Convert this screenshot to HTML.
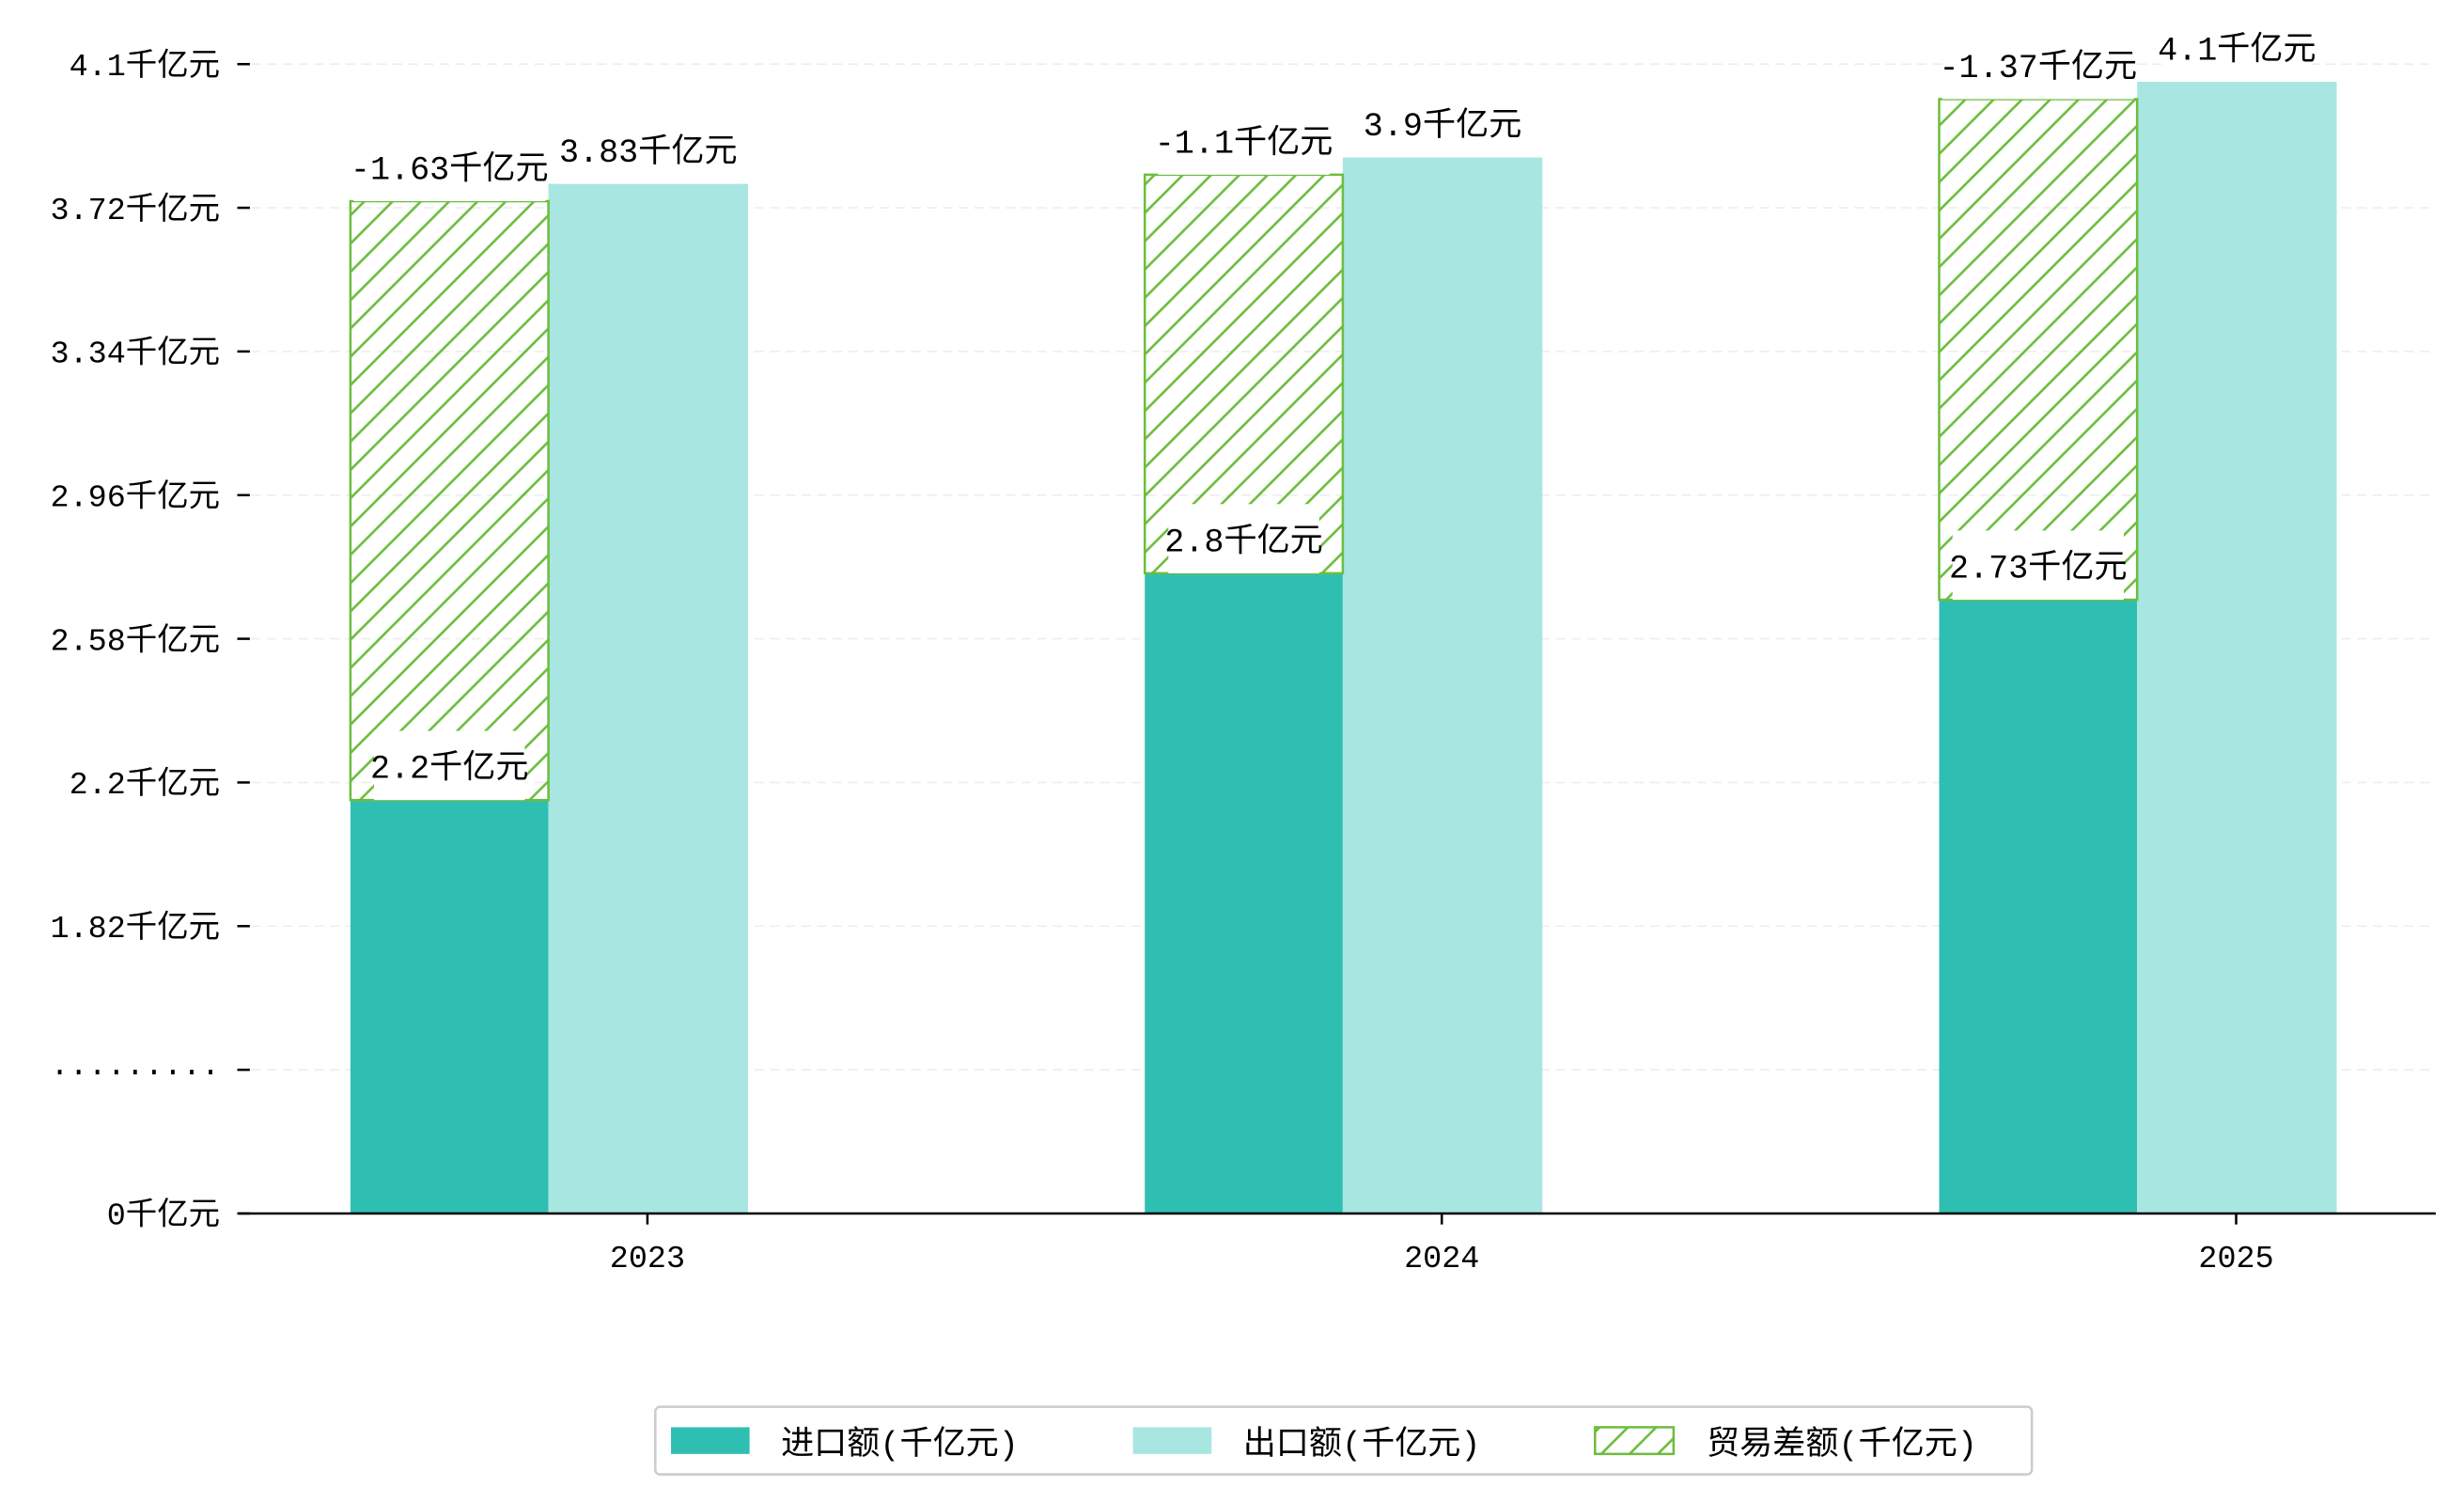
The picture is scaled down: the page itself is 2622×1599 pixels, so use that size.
<!DOCTYPE html>
<html><head><meta charset="utf-8"><style>
html,body{margin:0;padding:0;background:#fff}
svg{display:block}
text{font-family:"Liberation Mono","Noto Sans CJK SC",monospace;fill:#000}
</style></head><body>
<svg id="chart" width="2622" height="1599" viewBox="0 0 1568 956.2" preserveAspectRatio="none" xmlns="http://www.w3.org/2000/svg">
<defs>
<pattern id="hatch" patternUnits="userSpaceOnUse" width="18" height="18">
<path d="M-2,20 L20,-2 M-2,2 L2,-2 M16,20 L20,16" stroke="#6dbd3e" stroke-width="1.6"/>
</pattern>
</defs>
<g id="grid"></g>
<g id="bars"></g>
<g id="labels"></g>
<line x1="152" y1="772" x2="1550" y2="772" stroke="#000" stroke-width="1.5"/>
<g>
<rect x="417" y="895" width="876" height="43" fill="#fff" stroke="#ccc" stroke-width="1.5" rx="3"/>
<g><rect x="427" y="908" width="50" height="17" fill="#2fbfb2"/><text x="497" y="925" font-size="21">进口额(千亿元)</text></g>
<g><rect x="721" y="908" width="50" height="17" fill="#a8e6e1"/><text x="791" y="925" font-size="21">出口额(千亿元)</text></g>
<g><rect x="1015" y="908" width="50" height="17" fill="url(#hatch)" stroke="#6dbd3e" stroke-width="1.5"/><text x="1086" y="925" font-size="21">贸易差额(千亿元)</text></g>
</g>
</svg>
<script>
const categories = ["2023","2024","2025"];
const importVals = [2.2, 2.8, 2.73];
const exportVals = [3.83, 3.9, 4.1];
const balanceVals = [-1.63, -1.1, -1.37];
const tickVals = [0, 1.44, 1.82, 2.2, 2.58, 2.96, 3.34, 3.72, 4.1];
const tickLabels = ["0千亿元","·········","1.82千亿元","2.2千亿元","2.58千亿元","2.96千亿元","3.34千亿元","3.72千亿元","4.1千亿元"];

const NS="http://www.w3.org/2000/svg";
const svg=document.getElementById('chart');
const gGrid=document.getElementById('grid'), gBars=document.getElementById('bars'), gLab=document.getElementById('labels');
const BASE=772;
function yVal(v){ return 509-(v-2.2)*240.5; }
function xCenter(i){ return 412+i*505.5; }
function mk(tag,attrs,parent){const e=document.createElementNS(NS,tag);for(const k in attrs)e.setAttribute(k,attrs[k]);parent.appendChild(e);return e;}

tickLabels.forEach((lab,i)=>{
  const y=772-i*91.4;
  if(i>0){const gl=mk('line',{x1:160,x2:1550,y1:y,y2:y,stroke:'#eee','stroke-dasharray':'6,4'},gGrid);
  
  }
  const tk=mk('line',{x1:151,x2:159,y1:y,y2:y,stroke:'#000','stroke-width':1.5},gGrid);
  
  
  const t=mk('text',{x:140,y:y+7,'text-anchor':'end','font-size':20},gGrid);
  t.textContent=lab;
  
  
});

function labelBox(cx,bottom,txt,name){
  const w=txt.length*13+18;
  const r=mk('rect',{x:cx-w/2,y:bottom-44,width:w,height:44,fill:'#fff'},gLab);
  
  
  const t=mk('text',{x:cx,y:bottom-14,'text-anchor':'middle','font-size':21},gLab);
  t.textContent=txt;
  
  
}

categories.forEach((c,i)=>{
  const cx=xCenter(i);
  const yi=yVal(importVals[i]), ye=yVal(exportVals[i]);
  const b1=mk('rect',{x:cx-189,y:yi,width:126,height:BASE-yi,fill:'#2fbfb2'},gBars);
  
  
  const b2=mk('rect',{x:cx-63,y:ye,width:127,height:BASE-ye,fill:'#a8e6e1'},gBars);
  
  
  const yh=yVal(importVals[i]+Math.abs(balanceVals[i]))+11;
  const b3=mk('rect',{x:cx-189,y:yh,width:126,height:yi-yh,fill:'url(#hatch)',stroke:'#6dbd3e','stroke-width':1.5},gBars);
  
  
  const xt=mk('text',{x:cx,y:806,'text-anchor':'middle','font-size':20},gGrid);
  xt.textContent=c;
  
  
  const xk=mk('line',{x1:cx,x2:cx,y1:772,y2:779,stroke:'#000','stroke-width':1.5},gGrid);
  
  
});
categories.forEach((c,i)=>{
  const cx=xCenter(i);
  labelBox(cx+0.5,yVal(exportVals[i]),exportVals[i]+'千亿元','export-value-label');
});
categories.forEach((c,i)=>{
  const cx=xCenter(i);
  const yi=yVal(importVals[i]);
  const yh=yVal(importVals[i]+Math.abs(balanceVals[i]))+11;
  labelBox(cx-126,yh,balanceVals[i]+'千亿元','balance-value-label');
  labelBox(cx-126,yi,importVals[i]+'千亿元','import-value-label');
});
</script>
</body></html>
